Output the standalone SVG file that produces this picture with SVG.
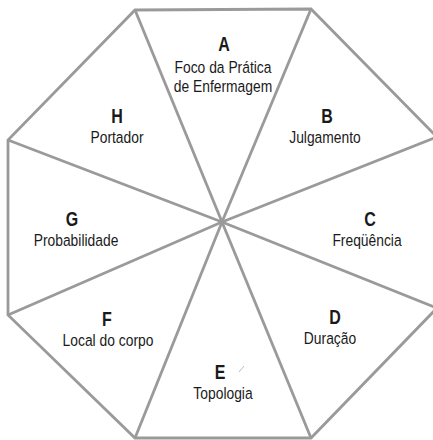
<svg xmlns="http://www.w3.org/2000/svg" width="433" height="440" viewBox="0 0 433 440">
<style>
.ln{stroke:#9a9a9a;stroke-width:2.8;fill:none;stroke-linejoin:miter}
.let{font-family:"Liberation Sans",Arial,sans-serif;font-weight:bold;font-size:20px;fill:#1a1a1a;text-anchor:middle}
.lab{font-family:"Liberation Sans",Arial,sans-serif;font-size:16.5px;fill:#1a1a1a;text-anchor:middle}
</style>
<rect width="433" height="440" fill="#ffffff"/>
<g id="connectors">
<polygon class="ln" points="135,10 311,9 437,137 437,308 311,438 135,438 8,315 8,140"/>
<line class="ln" x1="222" y1="222" x2="135" y2="10"/>
<line class="ln" x1="222" y1="222" x2="311" y2="9"/>
<line class="ln" x1="222" y1="222" x2="437" y2="137"/>
<line class="ln" x1="222" y1="222" x2="437" y2="308"/>
<line class="ln" x1="222" y1="222" x2="311" y2="438"/>
<line class="ln" x1="222" y1="222" x2="135" y2="438"/>
<line class="ln" x1="222" y1="222" x2="8" y2="315"/>
<line class="ln" x1="222" y1="222" x2="8" y2="140"/>
</g>
<g id="A"><text class="let" transform="translate(224,51) scale(0.8,1)">A</text><text class="lab" transform="translate(223,73) scale(0.84,1)">Foco da Prática</text><text class="lab" transform="translate(223,92) scale(0.84,1)">de Enfermagem</text></g>
<g id="B"><text class="let" transform="translate(327,123) scale(0.8,1)">B</text><text class="lab" transform="translate(325,143) scale(0.84,1)">Julgamento</text></g>
<g id="C"><text class="let" transform="translate(370,226) scale(0.8,1)">C</text><text class="lab" transform="translate(367,246) scale(0.84,1)">Freqüência</text></g>
<g id="D"><text class="let" transform="translate(335,324) scale(0.8,1)">D</text><text class="lab" transform="translate(330,344) scale(0.84,1)">Duração</text></g>
<g id="E"><text class="let" transform="translate(220,379) scale(0.8,1)">E</text><text class="lab" transform="translate(223,399) scale(0.84,1)">Topologia</text><line x1="239" y1="372" x2="244" y2="366" stroke="#bbbbbb" stroke-width="1"/></g>
<g id="F"><text class="let" transform="translate(107,326) scale(0.8,1)">F</text><text class="lab" transform="translate(108,346) scale(0.84,1)">Local do corpo</text></g>
<g id="G"><text class="let" transform="translate(72,226) scale(0.8,1)">G</text><text class="lab" transform="translate(76,246) scale(0.84,1)">Probabilidade</text></g>
<g id="H"><text class="let" transform="translate(117,123) scale(0.8,1)">H</text><text class="lab" transform="translate(117,143) scale(0.84,1)">Portador</text></g>
</svg>
